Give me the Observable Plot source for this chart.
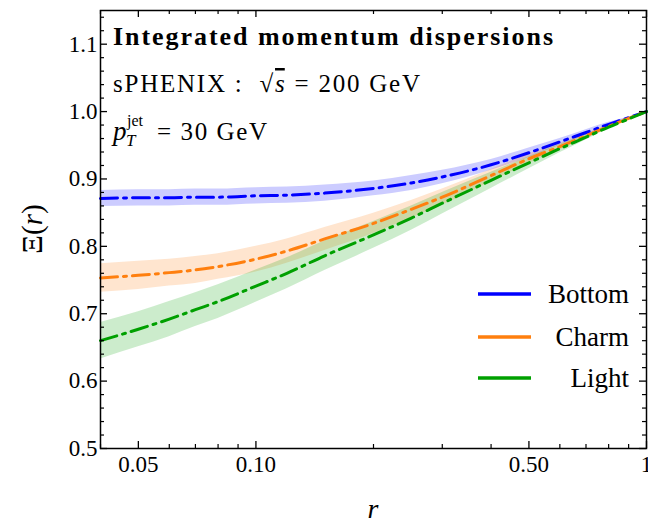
<!DOCTYPE html>
<html><head><meta charset="utf-8">
<script src="https://cdn.jsdelivr.net/npm/d3@7"></script>
<script src="https://cdn.jsdelivr.net/npm/@observablehq/plot@0.6"></script>
<style>body{margin:0;background:#fff} #chart svg{display:block}</style>
</head><body><div id="chart"></div>
<script>
// ---- data ----
const r = [0.04,0.05,0.06,0.07,0.08,0.1,0.12,0.15,0.2,0.25,0.3,0.4,0.5,0.6,0.7,0.8,0.9,1.0];
const bottomMid = [0.871,0.872,0.872,0.873,0.873,0.875,0.876,0.879,0.886,0.894,0.903,0.921,0.939,0.955,0.969,0.981,0.991,1.0];
const bottomErr = [0.012,0.012,0.012,0.012,0.012,0.012,0.012,0.012,0.011,0.011,0.010,0.008,0.007,0.005,0.004,0.003,0.001,0];
const charmMid  = [0.753,0.757,0.761,0.765,0.770,0.781,0.793,0.811,0.834,0.855,0.873,0.905,0.930,0.948,0.964,0.978,0.990,1.0];
const charmErr  = [0.021,0.021,0.020,0.020,0.019,0.019,0.018,0.017,0.015,0.013,0.012,0.009,0.007,0.005,0.004,0.002,0.001,0];
const lightMid  = [0.660,0.677,0.692,0.706,0.718,0.741,0.760,0.786,0.817,0.842,0.864,0.898,0.924,0.945,0.962,0.977,0.989,1.0];
const lightErr  = [0.027,0.026,0.026,0.025,0.025,0.024,0.023,0.022,0.020,0.018,0.016,0.012,0.009,0.006,0.004,0.002,0.001,0];

const series = ["Bottom","Charm","Light"];
const colors = ["#0000ff","#ff7f0e","#00a000"];

const xMajor = [0.05,0.1,0.5,1];
const xMajorLabels = ["0.05","0.10","0.50","1"];
const xMinor = [0.04,0.06,0.07,0.08,0.09,0.2,0.3,0.4,0.6,0.7,0.8,0.9];
const yMajor = [0.5,0.6,0.7,0.8,0.9,1.0,1.1];
const yMajorLabels = ["0.5","0.6","0.7","0.8","0.9","1.0","1.1"];
const yMinor = [0.52,0.54,0.56,0.58,0.62,0.64,0.66,0.68,0.72,0.74,0.76,0.78,0.82,0.84,0.86,0.88,0.92,0.94,0.96,0.98,1.02,1.04,1.06,1.08,1.12,1.14];

// ---- table ----
const mids = [bottomMid, charmMid, lightMid];
const errs = [bottomErr, charmErr, lightErr];
const rows = [];
series.forEach((s, k) => r.forEach((rv, i) => rows.push({series: s, r: rv, mid: mids[k][i], lo: mids[k][i] - errs[k][i], hi: mids[k][i] + errs[k][i]})));

// ---- layout ----
const W = 648, H = 523, ML = 100, MR = 2, MT = 10, MB = 75;
const FW = W - ML - MR, FH = H - MT - MB;
const majLen = 7, minLen = 4;
const xLab = new Map(xMajor.map((d, i) => [d, xMajorLabels[i]]));
const yLab = new Map(yMajor.map((d, i) => [d, yMajorLabels[i]]));

const plot = Plot.plot({
  width: W, height: H,
  marginLeft: ML, marginRight: MR, marginTop: MT, marginBottom: MB,
  style: {fontFamily: "'Liberation Serif', 'Times New Roman', serif", fontSize: "23px", color: "black", background: "white"},
  x: {type: "log", domain: [0.04, 1]},
  y: {domain: [0.5, 1.15]},
  color: {domain: series, range: colors},
  marks: [
    Plot.areaY(rows, {x: "r", y1: "lo", y2: "hi", z: "series", fill: "series", fillOpacity: 0.2, curve: "monotone-x"}),
    Plot.lineY(rows, {x: "r", y: "mid", z: "series", stroke: "series", strokeWidth: 3, strokeDasharray: "17,6,3,6", curve: "monotone-x"}),
    // inward ticks on all four sides
    Plot.tickX(xMajor, {x: d => d, insetTop: FH - majLen, strokeWidth: 1.3}),
    Plot.tickX(xMajor, {x: d => d, insetBottom: FH - majLen, strokeWidth: 1.3}),
    Plot.tickX(xMinor, {x: d => d, insetTop: FH - minLen, strokeWidth: 1.2}),
    Plot.tickX(xMinor, {x: d => d, insetBottom: FH - minLen, strokeWidth: 1.2}),
    Plot.tickY(yMajor, {y: d => d, insetRight: FW - majLen, strokeWidth: 1.3}),
    Plot.tickY(yMajor, {y: d => d, insetLeft: FW - majLen, strokeWidth: 1.3}),
    Plot.tickY(yMinor, {y: d => d, insetRight: FW - minLen, strokeWidth: 1.2}),
    Plot.tickY(yMinor, {y: d => d, insetLeft: FW - minLen, strokeWidth: 1.2}),
    Plot.axisX({ticks: xMajor, tickSize: 0, tickPadding: 7, tickFormat: d => xLab.get(d), label: null}),
    Plot.axisY({ticks: yMajor, tickSize: 0, tickPadding: 3, tickFormat: d => yLab.get(d), label: null}),
    Plot.frame({strokeWidth: 1.5})
  ]
});
document.getElementById("chart").appendChild(plot);

// ---- annotations, axis titles, legend ----
const svg = d3.select(plot);
const g = svg.append("g").attr("font-family", "'Liberation Serif', 'Times New Roman', serif")
  .attr("fill", "black").attr("text-anchor", "start");
const tx = ML + 13;

g.append("text").attr("x", tx).attr("y", MT + 35).attr("font-size", 26).attr("font-weight", "bold")
  .attr("textLength", 440).attr("lengthAdjust", "spacing").text("Integrated momentum dispersions");

const t2 = g.append("text").attr("x", tx).attr("y", MT + 82).attr("font-size", 25).attr("textLength", 307).attr("lengthAdjust", "spacing");
t2.append("tspan").text("sPHENIX :  √");
t2.append("tspan").attr("font-style", "italic").style("text-decoration", "overline").text("s");
t2.append("tspan").text(" = 200 GeV");

g.append("text").attr("x", tx).attr("y", MT + 130).attr("font-size", 27).attr("font-style", "italic").text("p");
g.append("text").attr("x", tx + 14).attr("y", MT + 116).attr("font-size", 16).text("jet");
g.append("text").attr("x", tx + 13).attr("y", MT + 136).attr("font-size", 17).attr("font-style", "italic").text("T");
g.append("text").attr("x", tx + 44).attr("y", MT + 130).attr("font-size", 25).attr("textLength", 110).attr("lengthAdjust", "spacing").text("= 30 GeV");

// x axis title
g.append("text").attr("x", ML + FW / 2).attr("y", H - 5).attr("text-anchor", "middle").attr("font-size", 28).attr("font-style", "italic").text("r");
// y axis title
const yl = g.append("text").attr("transform", `translate(42,${MT + FH / 2}) rotate(-90)`).attr("text-anchor", "middle").attr("font-size", 29);
yl.append("tspan").text("Ξ(");
yl.append("tspan").attr("font-style", "italic").text("r");
yl.append("tspan").text(")");

// legend
const legY = [294, 337, 378];
series.forEach((s, i) => {
  g.append("line").attr("x1", 478).attr("x2", 531).attr("y1", legY[i]).attr("y2", legY[i]).attr("stroke", colors[i]).attr("stroke-width", 3.5);
  g.append("text").attr("x", 629).attr("y", legY[i] + 9).attr("text-anchor", "end").attr("font-size", 27).text(s);
});
</script>
</body></html>
